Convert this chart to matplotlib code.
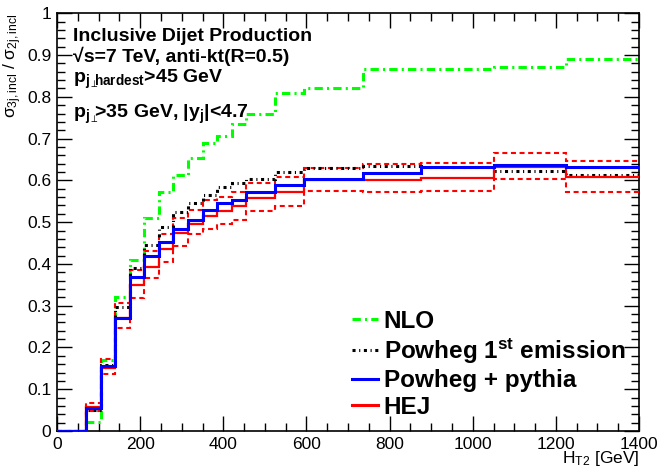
import matplotlib
matplotlib.use("Agg")
import matplotlib.pyplot as plt
from matplotlib.lines import Line2D
from matplotlib.ticker import MultipleLocator, FuncFormatter

plt.rcParams['font.family'] = ['Liberation Sans', 'DejaVu Sans']
plt.rcParams['mathtext.fontset'] = 'custom'
plt.rcParams['mathtext.rm'] = 'Liberation Sans'
plt.rcParams['mathtext.it'] = 'Liberation Sans:italic'
plt.rcParams['mathtext.bf'] = 'Liberation Sans:bold'
plt.rcParams['mathtext.default'] = 'regular'
plt.rcParams['lines.scale_dashes'] = False

# ---- data ----
edges = [0, 70, 105, 140, 175, 210, 245, 280, 315, 350, 385, 420, 455,
         525, 595, 735, 875, 1050, 1225, 1400]
nlo = [0, 0.022, 0.17, 0.32, 0.41, 0.509, 0.571, 0.612, 0.653, 0.689, 0.707,
       0.734, 0.76, 0.808, 0.82, 0.866, 0.866, 0.871, 0.891]
powheg_1st = [0, 0.05, 0.157, 0.298, 0.39, 0.445, 0.489, 0.524, 0.545, 0.565,
              0.584, 0.593, 0.604, 0.619, 0.629, 0.634, 0.632, 0.623, 0.614]
powheg_pythia = [0, 0.056, 0.155, 0.27, 0.368, 0.418, 0.453, 0.484, 0.506,
                 0.528, 0.547, 0.552, 0.571, 0.588, 0.603, 0.618, 0.633,
                 0.637, 0.633]
hej = [0, 0.058, 0.152, 0.27, 0.35, 0.393, 0.436, 0.474, 0.496, 0.515, 0.527,
       0.539, 0.557, 0.571, 0.600, 0.602, 0.605, 0.633, 0.609]
hej_up = [0, 0.068, 0.172, 0.306, 0.385, 0.43, 0.472, 0.51, 0.53, 0.553, 0.56,
          0.573, 0.594, 0.609, 0.629, 0.639, 0.641, 0.665, 0.647]
hej_lo = [0, 0.048, 0.136, 0.246, 0.318, 0.367, 0.405, 0.443, 0.471, 0.483,
          0.495, 0.505, 0.527, 0.539, 0.575, 0.571, 0.575, 0.603, 0.573]
labels = ['NLO', 'Powheg 1$^{st}$ emission', 'Powheg + pythia', 'HEJ']

W, H = 659, 467
fig = plt.figure(figsize=(W / 100, H / 100), dpi=100)
x0, x1, ytop, ybot = 57, 639, 13.3, 431
ax = fig.add_axes([x0 / W, (H - ybot) / H, (x1 - x0) / W, (ybot - ytop) / H])

green_ls = (0, (6, 3, 1.5, 3))
black_ls = (0, (2.2, 2.6, 0.8, 2.6))
red_dash = (0, (3.6, 2.6))

ax.stairs(nlo, edges, baseline=None, color='#00ff00', lw=2.2, linestyle=green_ls, zorder=2)
ax.stairs(hej_up, edges, baseline=None, color='#ff0000', lw=1.5, linestyle=red_dash, zorder=3)
ax.stairs(hej_lo, edges, baseline=None, color='#ff0000', lw=1.5, linestyle=red_dash, zorder=3)
ax.stairs(powheg_1st, edges, baseline=None, color='black', lw=2.2, linestyle=black_ls, zorder=4)
ax.stairs(hej, edges, baseline=None, color='#ff0000', lw=1.6, zorder=5)
ax.stairs(powheg_pythia, edges, baseline=None, color='#0000ff', lw=2.2, zorder=6)

ax.set_xlim(0, 1400)
ax.set_ylim(0, 1)
ax.xaxis.set_major_locator(MultipleLocator(200))
ax.xaxis.set_minor_locator(MultipleLocator(50))
ax.yaxis.set_major_locator(MultipleLocator(0.1))
ax.yaxis.set_minor_locator(MultipleLocator(0.02))
ax.yaxis.set_major_formatter(FuncFormatter(lambda v, p: '%g' % round(v, 2)))
ax.xaxis.set_major_formatter(FuncFormatter(lambda v, p: '%g' % v))
ax.tick_params(which='both', direction='in', top=True, right=True, labelsize=12.5, pad=4)
ax.tick_params(which='major', length=11, width=1)
ax.tick_params(which='minor', length=5.5, width=1)
for s in ax.spines.values():
    s.set_linewidth(1.2)

ax.set_ylabel(r'$\sigma_{3j,incl}$ / $\sigma_{2j,incl}$', loc='top', fontsize=12.5)
ax.yaxis.set_label_coords(-0.056, 1.0)
ax.set_xlabel('H$_{T2}$ [GeV]', loc='right', fontsize=12.5)
ax.xaxis.set_label_coords(1.0, -0.043)

def fx(px):
    return (px - x0) / (x1 - x0)

def fy(py):
    return (ybot - py) / (ybot - ytop)

tk = dict(transform=ax.transAxes, fontsize=14, fontweight='bold', va='baseline', ha='left')
ax.text(fx(73), fy(40.7), 'Inclusive Dijet Production', **tk)
ax.text(fx(73), fy(61.5), '√s=7 TeV, anti-kt(R=0.5)', **tk)
ax.text(fx(73), fy(83.3), r'p$_{j_{\perp}\hspace{-0.45}hardest}$>45 GeV', **tk)
ax.text(fx(73), fy(118.3), r'p$_{j_{\perp}\hspace{-0.45}}$>35 GeV, |y$_{j}$|<4.7', **tk)

handles = [
    Line2D([], [], color='#00ff00', lw=2.2, linestyle=green_ls),
    Line2D([], [], color='black', lw=2.2, linestyle=black_ls),
    Line2D([], [], color='#0000ff', lw=2.2),
    Line2D([], [], color='#ff0000', lw=2.2),
]
leg = ax.legend(handles, labels, loc='upper left', bbox_to_anchor=(fx(352), fy(310)),
                frameon=False, handlelength=1.05, handletextpad=0.25,
                labelspacing=0.14, borderpad=0, borderaxespad=0,
                prop=dict(size=17.5, weight='bold'))

fig.savefig('out.png', dpi=100)
